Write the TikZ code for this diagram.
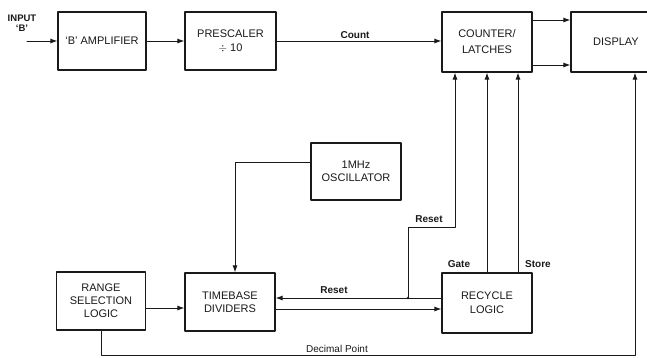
\documentclass[tikz,border=0pt]{standalone}
\usepackage{fontspec}
\setmainfont{Liberation Sans}
\usetikzlibrary{arrows.meta,calc,positioning}
\definecolor{cntInk}{HTML}{1A1A1A}
\definecolor{cntPaper}{HTML}{FFFFFF}

\begin{document}
\begin{tikzpicture}[x=1pt,y=-1pt,>={Latex[length=7pt,width=5pt]},line cap=round,line join=round]
\useasboundingbox (0,0) rectangle (647,357);
\clip (0,0) rectangle (647,357);
\path[fill=cntPaper] (0,0) rectangle (647,357);
\tikzset{blk/.style={draw=cntInk,line width=1.1pt,align=center,text=cntInk,font=\fontsize{11}{13}\selectfont,inner sep=2pt},sig/.style={draw=cntInk,line width=1pt},lbl/.style={text=cntInk,font=\fontsize{10}{11}\selectfont\bfseries,inner sep=1pt}}
\node[blk,minimum width=88pt,minimum height=58pt] (amp) at (102,41) {`B' AMPLIFIER};
\node[blk,minimum width=91pt,minimum height=58pt] (presc) at (230.5,41) {PRESCALER\\[1pt]$\div$ 10};
\node[blk,minimum width=90pt,minimum height=60pt] (cnt) at (487,42) {COUNTER/\\[3pt]LATCHES};
\node[blk,minimum width=90pt,minimum height=60pt] (disp) at (616,42) {DISPLAY};
\node[blk,minimum width=90pt,minimum height=57pt] (osc) at (356,171.5) {1MHz\\OSCILLATOR};
\node[blk,minimum width=89pt,minimum height=58pt] (range) at (101,301) {RANGE\\SELECTION\\LOGIC};
\node[blk,minimum width=90pt,minimum height=58pt] (tb) at (230,302) {TIMEBASE\\DIVIDERS};
\node[blk,minimum width=90pt,minimum height=60pt] (rcy) at (487,303) {RECYCLE\\[1pt]LOGIC};
\coordinate (inp) at (27,41); \coordinate (jn) at (408,298); \coordinate (rstc) at (408,227); \coordinate (dpc) at (101,355);
\node[lbl,align=center,font=\fontsize{9.5}{9.5}\selectfont\bfseries] (inlbl) at (22,23) {INPUT\\`B'};
\draw[sig,->] (inp) -- (amp.west);
\draw[sig,->] (amp.east) -- (presc.west);
\draw[sig,->] (presc.east) -- (presc.east -| cnt.west);
\node[lbl] (cntlbl) at (355,35) {Count};
\draw[sig,->] ([yshift=22pt]cnt.east) -- ([yshift=22pt]cnt.east -| disp.west);
\draw[sig,->] ([yshift=-23pt]cnt.east) -- ([yshift=-23pt]cnt.east -| disp.west);
\draw[sig,->] (rcy.north) -- (cnt.south); \node[lbl] (gatelbl) at (459,264) {Gate};
\draw[sig,->] ([xshift=31pt]rcy.north) -- ([xshift=31pt]cnt.south); \node[lbl] (storelbl) at (538,264) {Store};
\draw[sig,->] (jn |- rcy.west) ++(0,-5) coordinate (rw) (rcy.west |- rw) -- (rw -| tb.east);
\node[lbl] (rstlbl) at (334,290) {Reset};
\draw[sig,->] (jn) -- (rstc) -| ([xshift=-32pt]cnt.south); \node[lbl] (rstlbl2) at (429,219) {Reset};
\fill[cntInk] (jn) circle (1.4);
\draw[sig,->] ([yshift=-7pt]tb.east) -- ([yshift=-7pt]tb.east -| rcy.west);
\draw[sig,->] ([yshift=9.5pt]osc.west) -| ([xshift=5pt]tb.north);
\draw[sig,->] ([yshift=-7pt]range.east) -- ([yshift=-7pt]range.east -| tb.west);
\draw[sig,->] (range.south) -- (dpc) -| ([xshift=19pt]disp.south);
\node[lbl,font=\fontsize{10}{11}\selectfont] (dplbl) at (337,349) {Decimal Point};
\end{tikzpicture}
\end{document}
